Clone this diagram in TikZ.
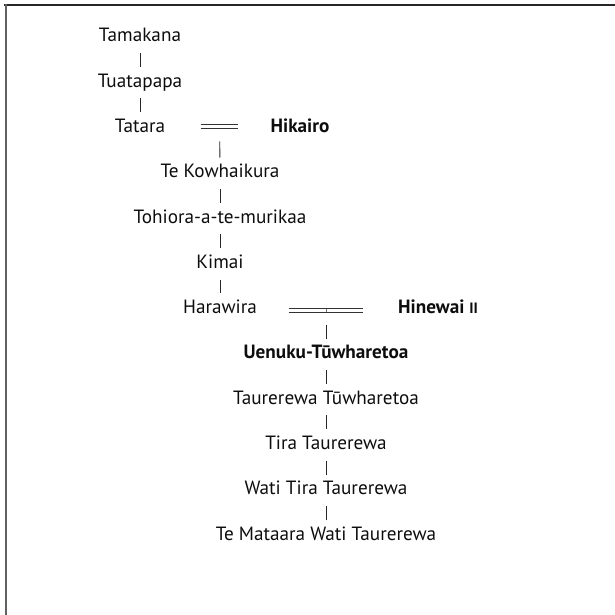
\documentclass[tikz,border=0pt]{standalone}
\usepackage{fontspec}
\setmainfont{PT Sans}
\begin{document}
\begin{tikzpicture}[x=1pt,y=-1pt,
  person/.style={inner sep=0pt, anchor=base, text height=13.5pt, text depth=4.5pt,
    font=\fontsize{19.2}{22}\selectfont, text=black!95},
  chief/.style={person, font=\fontsize{19.2}{22}\selectfont\bfseries},
  descent/.style={draw=black!85, line width=0.9pt, shorten <=6.5pt, shorten >=6.5pt},
  marriage/.style={draw=black!80, double=white, double distance=3.5pt, line width=0.9pt},
  frameline/.style={line cap=rect}
]
\useasboundingbox (0,0) rectangle (614,615);

% page frame (top and left edges)
\draw[frameline, line width=1.5pt, black!85] (5,5) -- (614,5);
\draw[frameline, line width=2pt, black!62] (5.5,5) -- (5.5,615);

% people, one row per generation
\node[person] (tamakana)  at (140, 41.8)  {Tamakana};
\node[person] (tuatapapa) at (140, 87.1)  {Tuatapapa};
\node[person] (tatara)    at (140,132.4)  {Tatara};
\node[chief]  (hikairo)   at (300,132.4)  {Hikairo};
\node[person] (kowhai)    at (220,177.7)  {Te Kowhaikura};
\node[person] (tohiora)   at (220,223.0)  {Tohiora-a-te-murikaa};
\node[person] (kimai)     at (220,268.3)  {Kimai};
\node[person] (harawira)  at (220,313.6)  {Harawira};
\node[chief]  (hinewai)   at (438,313.6)  {Hinewai {\fontsize{15}{16}\selectfont II}};
\node[chief]  (uenuku)    at (326,358.9)  {Uenuku-Tūwharetoa};
\node[person] (taurerewa) at (326,404.2)  {Taurerewa Tūwharetoa};
\node[person] (tira)      at (326,449.5)  {Tira Taurerewa};
\node[person] (wati)      at (326,494.8)  {Wati Tira Taurerewa};
\node[person] (mataara)   at (326,540.1)  {Te Mataara Wati Taurerewa};

% marriages
\coordinate (m1a) at (201,126.5);
\coordinate (m1b) at (238,126.5);
\coordinate (m1)  at (219.5,126.5);
\coordinate (m2a) at (289,310.5);
\coordinate (m2b) at (363,310.5);
\coordinate (m2)  at (326,310.5);
\draw[marriage] (m1a) -- (m1b);
\draw[marriage] (m2a) -- (m2b);
\draw[black!55, line width=0.6pt] (m2) ++(0,-1.8) -- ++(0,3.6);

% lines of descent
\draw[descent] (tamakana.south) -- (tuatapapa.north);
\draw[descent] (tuatapapa.south) -- (tatara.north);
\draw[descent, shorten <=15pt] (m1) -- (kowhai.north);
\draw[descent] (kowhai.south) -- (tohiora.north);
\draw[descent] (tohiora.south) -- (kimai.north);
\draw[descent] (kimai.south) -- (harawira.north);
\draw[descent, shorten <=14.5pt] (m2) -- (uenuku.north);
\draw[descent] (uenuku.south) -- (taurerewa.north);
\draw[descent] (taurerewa.south) -- (tira.north);
\draw[descent] (tira.south) -- (wati.north);
\draw[descent] (wati.south) -- (mataara.north);
\end{tikzpicture}
\end{document}
